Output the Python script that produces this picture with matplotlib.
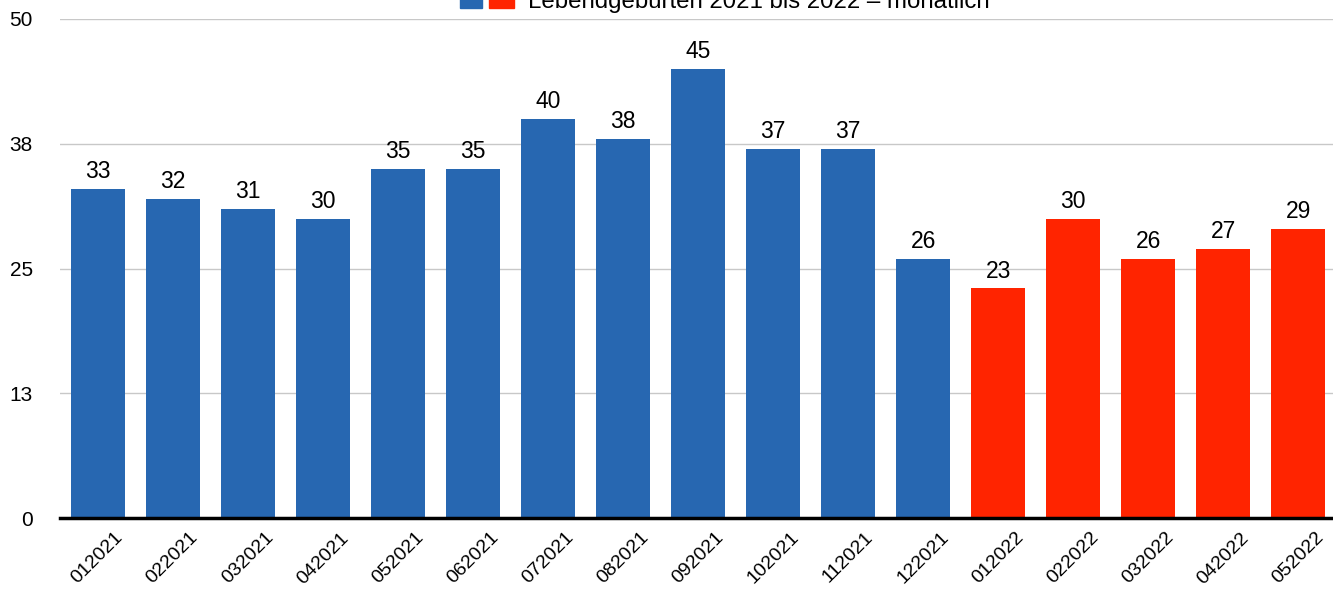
import matplotlib.pyplot as plt
from matplotlib.patches import Rectangle

plt.rcParams['font.family'] = ['Liberation Sans', 'DejaVu Sans']

months = ['012021', '022021', '032021', '042021', '052021', '062021', '072021',
          '082021', '092021', '102021', '112021', '122021',
          '012022', '022022', '032022', '042022', '052022']
births = [33, 32, 31, 30, 35, 35, 40, 38, 45, 37, 37, 26,
          23, 30, 26, 27, 29]
years = [2021] * 12 + [2022] * 5
yticks = [0, 12.5, 25, 37.5, 50]
ytick_labels = ['0', '13', '25', '38', '50']
legend_title = 'Lebendgeburten 2021 bis 2022 – monatlich'

blue = '#2767b1'
red = '#ff2400'
colors = [blue if y == 2021 else red for y in years]

W, H = 1333, 591
fig = plt.figure(figsize=(W / 100, H / 100), dpi=100)
ax = fig.add_axes([60 / W, (H - 518) / H, 1276 / W, 499 / H])

x = range(len(months))
bars = ax.bar(x, births, width=0.72, color=colors, zorder=2)
ax.bar_label(bars, labels=[str(v) for v in births], padding=4, fontsize=16.5)

ax.set_xlim(-0.5, len(months) - 0.5)
ax.set_ylim(0, 50)
ax.set_yticks(yticks)
ax.set_yticklabels(ytick_labels, fontsize=15)
ax.set_xticks(list(x))
ax.set_xticklabels(months, rotation=45, ha='center', va='top', fontsize=14)
ax.tick_params(axis='both', length=0)
ax.tick_params(axis='x', pad=8)
ax.tick_params(axis='y', pad=19.5)
for lab in ax.get_yticklabels():
    lab.set_horizontalalignment('right')

ax.grid(axis='y', color='#c8c8c8', linewidth=1, zorder=0)
ax.axhline(0, color='black', linewidth=2.5, zorder=3, clip_on=False)
for s in ax.spines.values():
    s.set_visible(False)

# legend at top (partly cut off, as in the original)
fig.add_artist(Rectangle((460 / W, (H - 8) / H), 22 / W, 16 / H,
                         transform=fig.transFigure, color=blue, clip_on=False))
fig.add_artist(Rectangle((489 / W, (H - 8) / H), 25 / W, 16 / H,
                         transform=fig.transFigure, color=red, clip_on=False))
fig.text(528 / W, (H - 8) / H, legend_title, fontsize=17.3, ha='left', va='baseline')

fig.savefig('out.png', dpi=100)
